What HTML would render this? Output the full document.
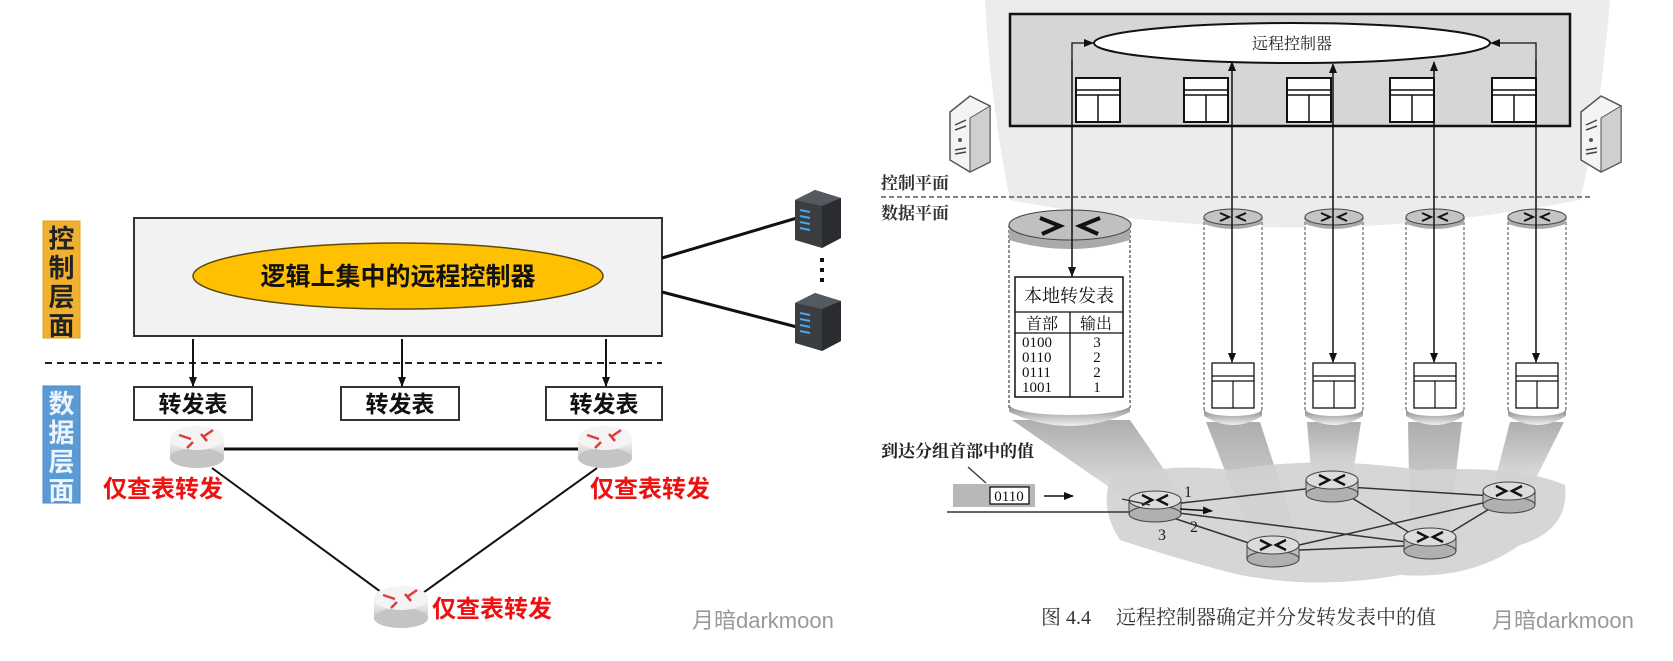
<!DOCTYPE html>
<html><head><meta charset="utf-8"><style>
html,body{margin:0;padding:0;background:#fff;}
svg{display:block;}
.b{font-family:"Liberation Sans","Noto Sans CJK SC",sans-serif;font-weight:bold;}
.s{font-family:"Liberation Serif","Noto Serif CJK SC",serif;}
</style></head><body>
<svg width="1673" height="661" viewBox="0 0 1673 661" xmlns="http://www.w3.org/2000/svg">
<defs>
<linearGradient id="rg" x1="0" y1="0" x2="0" y2="1"><stop offset="0" stop-color="#fafafa"/><stop offset="1" stop-color="#c8c8c8"/></linearGradient>
<linearGradient id="bm" x1="0" y1="0" x2="0" y2="1"><stop offset="0" stop-color="#9a9a9a"/><stop offset="1" stop-color="#e0e0e0"/></linearGradient>
<linearGradient id="cy" x1="0" y1="0" x2="0" y2="1"><stop offset="0" stop-color="#8a8a8a"/><stop offset="1" stop-color="#f0f0f0"/></linearGradient>
<marker id="ah" markerWidth="10" markerHeight="10" refX="9" refY="5" orient="auto" markerUnits="userSpaceOnUse"><path d="M0,1 L10,5 L0,9 Z" fill="#111"/></marker>
<g id="lr">
 <rect x="-27" y="0" width="54" height="20" fill="url(#rg)"/>
 <ellipse cx="0" cy="20" rx="27" ry="10" fill="#c4c4c4"/>
 <ellipse cx="0" cy="0" rx="27" ry="12" fill="#f4f4f4"/>
 <g stroke="#e23b3b" stroke-width="2.5" fill="none"><path d="M-18,-3 L-6,1"/><path d="M6,-1 L16,-8"/><path d="M-4,4 L-10,10"/><path d="M4,-4 L10,3"/></g>
</g>
<g id="rr">
 <rect x="-26" y="0" width="52" height="14" fill="#bdbdbd" stroke="#444" stroke-width="1"/>
 <ellipse cx="0" cy="14" rx="26" ry="8" fill="#b0b0b0" stroke="#444" stroke-width="1"/>
 <ellipse cx="0" cy="0" rx="26" ry="9" fill="#dcdcdc" stroke="#444" stroke-width="1"/>
 <g stroke="#111" stroke-width="2.5" fill="none"><path d="M-13,-5 L-3,0 L-13,5"/><path d="M13,-5 L3,0 L13,5"/></g>
</g>
<g id="tb">
 <rect x="0" y="0" width="44" height="44" fill="#fff" stroke="#111" stroke-width="2"/>
 <path d="M0,12 H44 M0,17 H44 M22,17 V44" stroke="#111" stroke-width="1.5"/>
</g>
<g id="tbs">
 <rect x="0" y="0" width="42" height="45" fill="#fff" stroke="#111" stroke-width="1.3"/>
 <path d="M0,13 H42 M0,18 H42 M21,18 V45" stroke="#111" stroke-width="1.2"/>
</g>
</defs>

<!-- ===== LEFT PANEL ===== -->
<rect x="43" y="221" width="37" height="117" fill="#f0b030" stroke="#e0a020"/>
<text class="b" font-size="26" fill="#222" text-anchor="middle"><tspan x="61.5" y="248">控</tspan><tspan x="61.5" y="277">制</tspan><tspan x="61.5" y="306">层</tspan><tspan x="61.5" y="335">面</tspan></text>
<rect x="43" y="386" width="37" height="117" fill="#5b9bd5" stroke="#4a8ac4"/>
<text class="b" font-size="26" fill="#eef4fb" text-anchor="middle"><tspan x="61.5" y="413">数</tspan><tspan x="61.5" y="442">据</tspan><tspan x="61.5" y="471">层</tspan><tspan x="61.5" y="500">面</tspan></text>

<rect x="134" y="218" width="528" height="118" fill="#f2f2f2" stroke="#333" stroke-width="2"/>
<ellipse cx="398" cy="276" rx="205" ry="33" fill="#ffc000" stroke="#5a4a10" stroke-width="1.5"/>
<text class="b" font-size="25" x="398" y="285" text-anchor="middle" fill="#111">逻辑上集中的远程控制器</text>

<line x1="45" y1="363" x2="662" y2="363" stroke="#222" stroke-width="2" stroke-dasharray="7,5"/>
<g stroke="#111" stroke-width="2"><line x1="193" y1="339" x2="193" y2="386" marker-end="url(#ah)"/><line x1="402" y1="339" x2="402" y2="386" marker-end="url(#ah)"/><line x1="606" y1="339" x2="606" y2="386" marker-end="url(#ah)"/></g>
<g fill="#fff" stroke="#333" stroke-width="2">
<rect x="134" y="387" width="118" height="33"/><rect x="341" y="387" width="118" height="33"/><rect x="546" y="387" width="116" height="33"/></g>
<g class="b" font-size="23" text-anchor="middle" fill="#111"><text x="193" y="412">转发表</text><text x="400" y="412">转发表</text><text x="604" y="412">转发表</text></g>

<g stroke="#111" stroke-width="3"><line x1="224" y1="449" x2="580" y2="449"/></g>
<g stroke="#111" stroke-width="2"><line x1="212" y1="468" x2="385" y2="595"/><line x1="597" y1="468" x2="420" y2="595"/></g>
<use href="#lr" x="197" y="438"/><use href="#lr" x="605" y="438"/><use href="#lr" x="401" y="598"/>
<g class="b" font-size="24" fill="#ee1111"><text x="103" y="497">仅查表转发</text><text x="590" y="497">仅查表转发</text><text x="432" y="617">仅查表转发</text></g>

<line x1="662" y1="258" x2="797" y2="218" stroke="#111" stroke-width="3"/>
<line x1="662" y1="292" x2="797" y2="327" stroke="#111" stroke-width="3"/>
<g>
 <path d="M795,200 L815,190 L841,198 L841,238 L822,248 L795,240 Z" fill="#3a3d42"/>
 <path d="M795,200 L815,190 L841,198 L822,206 Z" fill="#555a60"/>
 <path d="M822,206 L841,198 L841,238 L822,248 Z" fill="#2a2c30"/>
 <g stroke="#4aa8e8" stroke-width="2"><line x1="800" y1="210" x2="810" y2="212"/><line x1="800" y1="216" x2="810" y2="218"/><line x1="800" y1="222" x2="810" y2="224"/><line x1="800" y1="228" x2="810" y2="230"/></g>
</g>
<g>
 <path d="M795,303 L815,293 L841,301 L841,341 L822,351 L795,343 Z" fill="#3a3d42"/>
 <path d="M795,303 L815,293 L841,301 L822,309 Z" fill="#555a60"/>
 <path d="M822,309 L841,301 L841,341 L822,351 Z" fill="#2a2c30"/>
 <g stroke="#4aa8e8" stroke-width="2"><line x1="800" y1="313" x2="810" y2="315"/><line x1="800" y1="319" x2="810" y2="321"/><line x1="800" y1="325" x2="810" y2="327"/><line x1="800" y1="331" x2="810" y2="333"/></g>
</g>
<g fill="#111"><rect x="820" y="258" width="4" height="4"/><rect x="820" y="268" width="4" height="4"/><rect x="820" y="278" width="4" height="4"/></g>
<text font-family="Liberation Sans,'Noto Sans CJK SC',sans-serif" font-size="22" fill="#999" x="692" y="628">月暗darkmoon</text>

<!-- ===== RIGHT PANEL ===== -->
<path d="M985,0 L1610,0 Q1600,120 1580,200 Q1300,255 1010,200 Q990,100 985,0 Z" fill="#ececec"/>
<g fill="url(#bm)" opacity="0.8">
<path d="M1012,420 L1130,420 L1185,500 L1135,505 Z"/>
<path d="M1206,422 L1260,422 L1300,545 L1255,548 Z"/>
<path d="M1307,422 L1361,422 L1352,480 L1312,482 Z"/>
<path d="M1408,422 L1462,422 L1448,540 L1410,538 Z"/>
<path d="M1510,422 L1564,422 L1530,490 L1492,492 Z"/>
</g>
<path d="M1110,480 Q1160,462 1230,470 Q1320,455 1420,470 Q1520,465 1565,485 Q1570,530 1520,545 Q1470,580 1400,575 Q1320,590 1240,575 Q1180,560 1120,540 Q1100,510 1110,480 Z" fill="#d2d2d2" opacity="0.9"/>

<rect x="1010" y="14" width="560" height="112" fill="#d6d6d6" stroke="#111" stroke-width="2.5"/>
<ellipse cx="1292" cy="43" rx="198" ry="20" fill="#fff" stroke="#111" stroke-width="2"/>
<text class="s" font-size="16" x="1292" y="49" text-anchor="middle" fill="#222">远程控制器</text>
<use href="#tb" x="1076" y="78"/><use href="#tb" x="1184" y="78"/><use href="#tb" x="1287" y="78"/><use href="#tb" x="1390" y="78"/><use href="#tb" x="1492" y="78"/>

<g>
<path d="M950,112 L970,96 L990,106 L990,162 L970,172 L950,160 Z" fill="#f4f4f4" stroke="#555" stroke-width="1.5"/>
<path d="M970,118 L990,106 L990,162 L970,172 Z" fill="#cfcfcf" stroke="#555" stroke-width="1"/>
<g stroke="#444" stroke-width="1.5"><line x1="955" y1="125" x2="966" y2="120"/><line x1="955" y1="130" x2="966" y2="126"/><line x1="955" y1="150" x2="966" y2="148"/><line x1="955" y1="154" x2="966" y2="152"/></g>
<circle cx="960" cy="140" r="2" fill="#555"/>
</g>
<g>
<path d="M1581,112 L1601,96 L1621,106 L1621,162 L1601,172 L1581,160 Z" fill="#f4f4f4" stroke="#555" stroke-width="1.5"/>
<path d="M1601,118 L1621,106 L1621,162 L1601,172 Z" fill="#cfcfcf" stroke="#555" stroke-width="1"/>
<g stroke="#444" stroke-width="1.5"><line x1="1586" y1="125" x2="1597" y2="120"/><line x1="1586" y1="130" x2="1597" y2="126"/><line x1="1586" y1="150" x2="1597" y2="148"/><line x1="1586" y1="154" x2="1597" y2="152"/></g>
<circle cx="1591" cy="140" r="2" fill="#555"/>
</g>

<text class="s" font-size="17" font-weight="bold" x="881" y="189" fill="#333">控制平面</text>
<line x1="881" y1="197" x2="1590" y2="197" stroke="#555" stroke-width="1.5" stroke-dasharray="5,3"/>
<text class="s" font-size="17" font-weight="bold" x="881" y="219" fill="#333">数据平面</text>

<rect x="1009" y="225" width="121" height="185" fill="#fff"/>
<path d="M1009,225 V410 M1130,225 V410" stroke="#444" stroke-width="1.2" stroke-dasharray="3,2"/>
<path d="M1009,405 L1130,405 L1130,412 Q1070,440 1009,412 Z" fill="url(#cy)"/>
<ellipse cx="1070" cy="405" rx="60" ry="10" fill="#fff"/>
<path d="M1009,225 L1130,225 L1130,240 Q1070,258 1009,240 Z" fill="#aaa"/>
<ellipse cx="1070" cy="225" rx="61" ry="15" fill="#c0c0c0" stroke="#444" stroke-width="1"/>
<g stroke="#111" stroke-width="4" fill="none"><path d="M1040,218 L1060,226 L1042,234"/><path d="M1100,218 L1080,226 L1098,234"/></g>
<rect x="1015" y="277" width="108" height="120" fill="#fff" stroke="#111" stroke-width="1.5"/>
<path d="M1015,312 H1123 M1015,333 H1123 M1070,312 V397" stroke="#111" stroke-width="1.3"/>
<text class="s" font-size="18" x="1069" y="302" text-anchor="middle" fill="#111">本地转发表</text>
<text class="s" font-size="16" x="1042" y="329" text-anchor="middle" fill="#111">首部</text>
<text class="s" font-size="16" x="1096" y="329" text-anchor="middle" fill="#111">输出</text>
<g class="s" font-size="15" fill="#111"><text x="1022" y="347">0100</text><text x="1022" y="362">0110</text><text x="1022" y="377">0111</text><text x="1022" y="392">1001</text></g>
<g class="s" font-size="15" fill="#111" text-anchor="middle"><text x="1097" y="347">3</text><text x="1097" y="362">2</text><text x="1097" y="377">2</text><text x="1097" y="392">1</text></g>

<g id="sc">
<rect x="1204" y="217" width="58" height="195" fill="#fff"/>
<path d="M1204,217 V412 M1262,217 V412" stroke="#444" stroke-width="1" stroke-dasharray="3,2"/>
<path d="M1204,410 L1262,410 L1262,416 Q1233,434 1204,416 Z" fill="url(#cy)"/>
<ellipse cx="1233" cy="410" rx="28" ry="6" fill="#fff"/>
<path d="M1204,217 L1262,217 L1262,224 Q1233,234 1204,224 Z" fill="#aaa"/>
<ellipse cx="1233" cy="217" rx="29" ry="8" fill="#c4c4c4" stroke="#444" stroke-width="1"/>
<g stroke="#111" stroke-width="2" fill="none"><path d="M1220,213 L1229,217 L1220,221"/><path d="M1246,213 L1237,217 L1246,221"/></g>
<use href="#tbs" x="1212" y="363"/>
</g>
<use href="#sc" x="101"/><use href="#sc" x="202"/><use href="#sc" x="304"/>

<g stroke="#111" stroke-width="1.3" fill="none">
<path d="M1072,277 V43 H1093" marker-end="url(#ah)"/>
<line x1="1072" y1="60" x2="1072" y2="276" marker-end="url(#ah)"/>
<path d="M1536,362 V43 H1491" marker-end="url(#ah)"/>
<line x1="1536" y1="60" x2="1536" y2="362" marker-end="url(#ah)"/>
<line x1="1232" y1="362" x2="1232" y2="62" marker-end="url(#ah)"/>
<line x1="1232" y1="70" x2="1232" y2="362" marker-end="url(#ah)"/>
<line x1="1333" y1="362" x2="1333" y2="64" marker-end="url(#ah)"/>
<line x1="1333" y1="70" x2="1333" y2="362" marker-end="url(#ah)"/>
<line x1="1434" y1="362" x2="1434" y2="62" marker-end="url(#ah)"/>
<line x1="1434" y1="70" x2="1434" y2="362" marker-end="url(#ah)"/>
</g>

<g stroke="#333" stroke-width="1.5">
<line x1="1155" y1="506" x2="1332" y2="486"/>
<line x1="1155" y1="510" x2="1430" y2="545"/>
<line x1="1155" y1="512" x2="1273" y2="551"/>
<line x1="1332" y1="486" x2="1509" y2="497"/>
<line x1="1332" y1="486" x2="1430" y2="545"/>
<line x1="1273" y1="551" x2="1509" y2="497"/>
<line x1="1273" y1="551" x2="1430" y2="545"/>
<line x1="1430" y1="545" x2="1509" y2="497"/>
</g>
<line x1="947" y1="512" x2="1130" y2="512" stroke="#333" stroke-width="1.5"/>
<use href="#rr" x="1155" y="500"/><use href="#rr" x="1332" y="480"/><use href="#rr" x="1509" y="491"/><use href="#rr" x="1273" y="545"/><use href="#rr" x="1430" y="537"/>
<line x1="1122" y1="499" x2="1150" y2="505" stroke="#333" stroke-width="1.3"/>
<line x1="1180" y1="509" x2="1212" y2="511" stroke="#111" stroke-width="1.5" marker-end="url(#ah)"/>
<g class="s" font-size="16" fill="#222"><text x="1184" y="497">1</text><text x="1190" y="532">2</text><text x="1158" y="540">3</text></g>

<text class="s" font-size="17" font-weight="bold" x="881" y="457" fill="#222">到达分组首部中的值</text>
<line x1="968" y1="467" x2="986" y2="483" stroke="#333" stroke-width="1.2"/>
<rect x="953" y="484" width="82" height="23" fill="#b8b8b8"/>
<rect x="990" y="487" width="39" height="17" fill="#fff" stroke="#111" stroke-width="1.3"/>
<text class="s" font-size="15" x="1009" y="501" text-anchor="middle" fill="#111">0110</text>
<line x1="1044" y1="496" x2="1073" y2="496" stroke="#111" stroke-width="1.5" marker-end="url(#ah)"/>

<text class="s" font-size="20" x="1041" y="624" fill="#333">图 4.4</text>
<text class="s" font-size="20" x="1116" y="624" fill="#333">远程控制器确定并分发转发表中的值</text>
<text font-family="Liberation Sans,'Noto Sans CJK SC',sans-serif" font-size="22" fill="#999" x="1492" y="628">月暗darkmoon</text>
</svg>
</body></html>
